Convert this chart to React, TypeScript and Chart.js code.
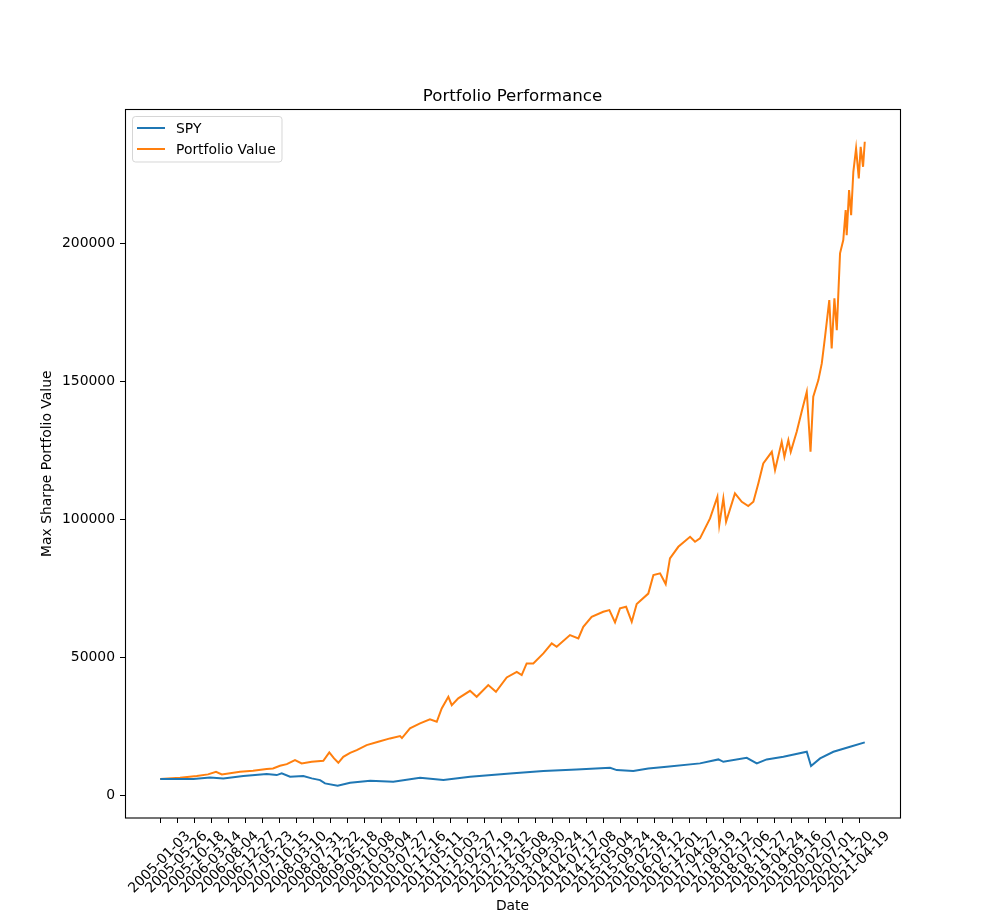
import React, { useEffect, useRef } from "react";
import { Chart, registerables } from "chart.js";

Chart.register(...registerables);

// ---- data (trading-day index since 2005-01-03, value in $) ----
const xTickLabels = [
  "2005-01-03", "2005-05-26", "2005-10-18", "2006-03-14", "2006-08-04", "2006-12-27",
  "2007-05-23", "2007-10-15", "2008-03-10", "2008-07-31", "2008-12-22", "2009-05-18",
  "2009-10-08", "2010-03-04", "2010-07-27", "2010-12-16", "2011-05-11", "2011-10-03",
  "2012-02-27", "2012-07-19", "2012-12-12", "2013-05-08", "2013-09-30", "2014-02-24",
  "2014-07-17", "2014-12-08", "2015-05-04", "2015-09-24", "2016-02-18", "2016-07-12",
  "2016-12-01", "2017-04-27", "2017-09-19", "2018-02-12", "2018-07-06", "2018-11-27",
  "2019-04-24", "2019-09-16", "2020-02-07", "2020-07-01", "2020-11-20", "2021-04-19",
];
const xTickDays = [
  0, 100, 200, 300, 400, 500, 600, 700, 800, 900, 1000, 1100, 1200, 1300,
  1400, 1500, 1600, 1700, 1800, 1900, 2000, 2100, 2200, 2300, 2400, 2500, 2600, 2700,
  2800, 2900, 3000, 3100, 3200, 3300, 3400, 3500, 3600, 3700, 3800, 3900, 4000, 4100,
];
const firstDay = 0;
const lastDay = 4130;
const yTickValues = [0, 50000, 100000, 150000, 200000];
const yMin = -8300;
const yMax = 248400;

const spyDays = [
  0, 194, 292, 370, 487, 624, 683, 712, 761, 839, 888, 937, 966, 1040, 1113, 1231,
  1366, 1523, 1660, 1816, 2051, 2246, 2441, 2637, 2676, 2773, 2861, 2969, 3164, 3272,
  3301, 3438, 3497, 3555, 3653, 3790, 3815, 3868, 3946, 4044, 4130,
];
const spyValues = [
  5800, 5800, 6400, 6050, 6880, 7600, 7250, 7860, 6630, 6880, 6050, 5430, 4240, 3400, 4460, 5180,
  4820, 6270, 5430, 6630, 7860, 8700, 9310, 9890, 9060, 8700, 9670, 10250, 11490, 12930,
  12070, 13510, 11490, 12930, 13880, 15690, 10510, 13300, 15690, 17500, 19100,
];

const portfolioDays = [
  0, 116, 214, 280, 327, 361, 468, 544, 624, 661, 702, 742, 790, 829, 888, 956,
  991, 1019, 1044, 1073, 1113, 1152, 1210, 1278, 1347, 1406, 1417, 1464, 1523, 1581,
  1621, 1650, 1689, 1709, 1747, 1816, 1855, 1923, 1968, 2031, 2090, 2119, 2148, 2187,
  2246, 2295, 2324, 2402, 2451, 2480, 2529, 2597, 2633, 2666, 2695, 2731, 2764, 2793,
  2861, 2891, 2930, 2963, 2988, 3037, 3106, 3135, 3164, 3223, 3266, 3277, 3301, 3317,
  3369, 3409, 3447, 3477, 3506, 3535, 3585, 3604, 3643, 3659, 3682, 3696, 3731, 3760,
  3790, 3812, 3828, 3858, 3878, 3897, 3922, 3936, 3952, 3966, 3985, 4004, 4018, 4024,
  4038, 4050, 4063, 4079, 4095, 4106, 4120, 4130,
];
const portfolioValues = [
  5800, 6270, 6880, 7500, 8440, 7500, 8440, 8800, 9420, 9670, 10620, 11230, 12680, 11490, 12070, 12430,
  15470, 13300, 11700, 13880, 15330, 16300, 18120, 19310, 20540, 21380, 20650, 24170, 25980, 27430,
  26560, 31410, 35620, 32610, 35040, 37790, 35620, 39860, 37430, 42640, 44670, 43480, 47720, 47720,
  51340, 54960, 53730, 57970, 56770, 60980, 64600, 66410, 67030, 62600, 67650, 68220, 62790, 69200,
  73000, 79710, 80330, 76450, 85760, 89960, 93590, 91770, 93010, 100250, 108080, 97830, 107500, 99020,
  109310, 106270, 104710, 106270, 112930, 120180, 124380, 117750, 128010, 122570, 128620, 124380, 131630, 138870,
  146120, 124380, 144310, 150360, 156410, 166050, 179350, 161840, 179960, 168480, 196270, 201080, 211950, 202900,
  219200, 210140, 225830, 234300, 223440, 234890, 227650, 236700,
];

const FONT = "'DejaVu Sans', 'Liberation Sans', sans-serif";

const framePlugin = {
  id: "frame",
  afterDatasetsDraw(chart: any) {
    const { ctx, chartArea } = chart;
    ctx.save();
    ctx.strokeStyle = "#000";
    ctx.lineWidth = 1.1;
    ctx.strokeRect(chartArea.left + 0.5, chartArea.top, chartArea.right - chartArea.left, chartArea.bottom - chartArea.top);
    ctx.restore();
  },
};

const legendPlugin = {
  id: "insideLegend",
  afterDraw(chart: any) {
    const { ctx, chartArea } = chart;
    const x0 = chartArea.left + 7.5;
    const y0 = chartArea.top + 7;
    const w = 149.5;
    const h = 45.5;
    const r = 3;
    ctx.save();
    ctx.beginPath();
    ctx.moveTo(x0 + r, y0);
    ctx.lineTo(x0 + w - r, y0);
    ctx.quadraticCurveTo(x0 + w, y0, x0 + w, y0 + r);
    ctx.lineTo(x0 + w, y0 + h - r);
    ctx.quadraticCurveTo(x0 + w, y0 + h, x0 + w - r, y0 + h);
    ctx.lineTo(x0 + r, y0 + h);
    ctx.quadraticCurveTo(x0, y0 + h, x0, y0 + h - r);
    ctx.lineTo(x0, y0 + r);
    ctx.quadraticCurveTo(x0, y0, x0 + r, y0);
    ctx.closePath();
    ctx.fillStyle = "rgba(255,255,255,0.8)";
    ctx.fill();
    ctx.strokeStyle = "rgba(204,204,204,0.8)";
    ctx.lineWidth = 1;
    ctx.stroke();
    chart.data.datasets.forEach((ds: any, i: number) => {
      const y = y0 + 11.5 + i * 21;
      ctx.beginPath();
      ctx.strokeStyle = ds.borderColor;
      ctx.lineWidth = 2;
      ctx.moveTo(x0 + 4.5, y);
      ctx.lineTo(x0 + 32.5, y);
      ctx.stroke();
      ctx.fillStyle = "#000";
      ctx.font = `13.9px ${FONT}`;
      ctx.textBaseline = "middle";
      ctx.textAlign = "left";
      ctx.fillText(ds.label, x0 + 43.5, y + 1);
    });
    ctx.restore();
  },
};

export default function App() {
  const canvasRef = useRef<HTMLCanvasElement | null>(null);

  useEffect(() => {
    const canvas = canvasRef.current;
    if (!canvas) return;
    const span = lastDay - firstDay;
    const chart = new Chart(canvas, {
      type: "line",
      data: {
        datasets: [
          {
            label: "SPY",
            data: spyDays.map((d, i) => ({ x: d, y: spyValues[i] })),
            borderColor: "#1f77b4",
            backgroundColor: "#1f77b4",
            borderWidth: 2,
            pointRadius: 0,
            tension: 0,
          },
          {
            label: "Portfolio Value",
            data: portfolioDays.map((d, i) => ({ x: d, y: portfolioValues[i] })),
            borderColor: "#ff7f0e",
            backgroundColor: "#ff7f0e",
            borderWidth: 2,
            pointRadius: 0,
            tension: 0,
          },
        ],
      },
      options: {
        responsive: false,
        animation: false,
        devicePixelRatio: 1,
        layout: { padding: { left: 0, right: 100, top: 0, bottom: 0 } },
        plugins: {
          legend: { display: false },
          tooltip: { enabled: false },
          title: {
            display: true,
            fullSize: false,
            text: "Portfolio Performance",
            color: "#000",
            font: { family: FONT, size: 16.67, weight: "normal", lineHeight: 1.2 },
            padding: { top: 87, bottom: 2.5 },
          },
        },
        scales: {
          x: {
            type: "linear",
            min: firstDay - 0.05 * span,
            max: lastDay + 0.05 * span,
            afterBuildTicks: (scale: any) => {
              scale.ticks = xTickDays.map((v) => ({ value: v }));
            },
            afterFit: (scale: any) => {
              scale.height = 101;
            },
            ticks: {
              autoSkip: false,
              minRotation: 45,
              maxRotation: 45,
              labelOffset: 28,
              padding: 5,
              color: "#000",
              font: { family: FONT, size: 13.9 },
              callback: (_v: any, i: number) => xTickLabels[i],
            },
            grid: { display: true, drawOnChartArea: false, drawTicks: true, tickLength: 5, color: "#000", lineWidth: 1 },
            border: { display: false },
            title: {
              display: true,
              text: "Date",
              color: "#000",
              font: { family: FONT, size: 13.9, lineHeight: 1.2 },
              padding: { top: 0, bottom: 4.2 },
            },
          },
          y: {
            type: "linear",
            min: yMin,
            max: yMax,
            afterBuildTicks: (scale: any) => {
              scale.ticks = yTickValues.map((v) => ({ value: v }));
            },
            afterFit: (scale: any) => {
              scale.width = 125;
            },
            ticks: {
              padding: 5,
              color: "#000",
              font: { family: FONT, size: 13.9 },
              callback: (v: any) => String(v),
            },
            grid: { display: true, drawOnChartArea: false, drawTicks: true, tickLength: 5, color: "#000", lineWidth: 1 },
            border: { display: false },
            title: {
              display: true,
              text: "Max Sharpe Portfolio Value",
              color: "#000",
              font: { family: FONT, size: 13.9, lineHeight: 1.2 },
              padding: { top: 39.5, bottom: 0 },
            },
          },
        },
      },
      plugins: [framePlugin, legendPlugin],
    } as any);
    return () => chart.destroy();
  }, []);

  return (
    <div style={{ position: "fixed", left: 0, top: 0, width: 1000, height: 919, background: "#fff" }}>
      <canvas ref={canvasRef} width={1000} height={919} style={{ display: "block" }} />
    </div>
  );
}
